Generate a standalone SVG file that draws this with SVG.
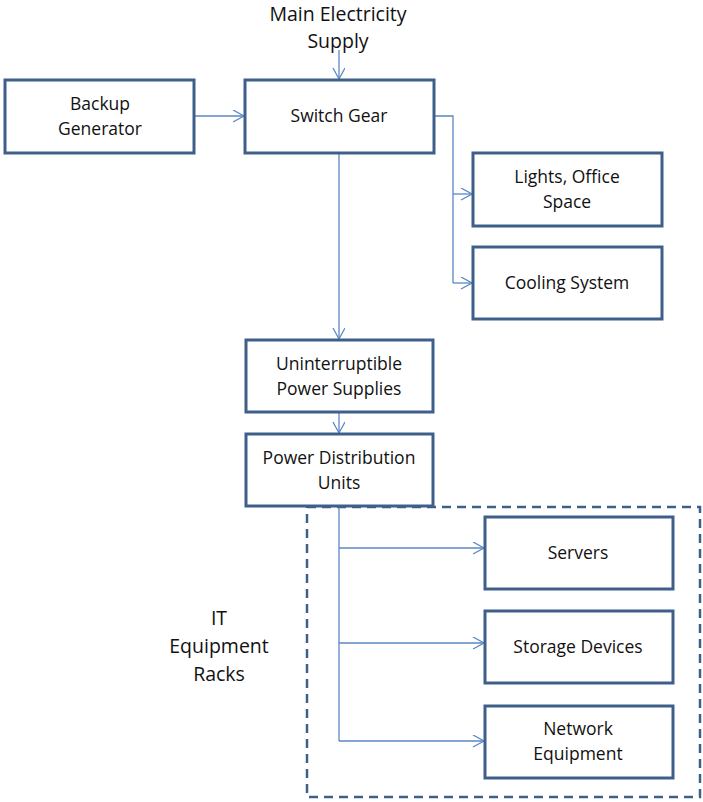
<svg xmlns="http://www.w3.org/2000/svg" width="703" height="802" viewBox="0 0 703 802">
<style>
.box{fill:#fff;stroke:#3E5F8A;stroke-width:3}
.t{font-family:"Open Sans","Liberation Sans",sans-serif;font-size:17.5px;fill:#111;text-anchor:middle}
.tl{font-family:"Open Sans","Liberation Sans",sans-serif;font-size:19.5px;fill:#111;text-anchor:middle}
.c{fill:none;stroke:#5B87C5;stroke-width:1.3;marker-end:url(#a)}
.cn{fill:none;stroke:#5B87C5;stroke-width:1.3}
</style>
<defs>
<marker id="a" markerWidth="14" markerHeight="14" refX="12" refY="6" orient="auto" markerUnits="userSpaceOnUse">
<path d="M1,0 L12,6 L1,12" fill="none" stroke="#5B87C5" stroke-width="1.3"/>
</marker>
</defs>
<rect x="307" y="507" width="393" height="290" fill="none" stroke="#3E5F8A" stroke-width="2.5" stroke-dasharray="9,6"/>
<g id="connectors">
<path class="c" d="M339,50 V79"/>
<path class="c" d="M194,116 H244"/>
<path class="cn" d="M435,116 H453 V283"/>
<path class="c" d="M453,194 H472"/>
<path class="c" d="M453,283 H472"/>
<path class="c" d="M339,153 V339"/>
<path class="c" d="M339,412 V433"/>
<path class="cn" d="M339,506 V741"/>
<path class="c" d="M339,548 H484"/>
<path class="c" d="M339,643 H484"/>
<path class="c" d="M339,741 H484"/>
</g>
<g id="main-supply"><text class="tl" x="338" y="21">Main Electricity</text><text class="tl" x="338" y="48">Supply</text></g>
<g id="backup-generator"><rect class="box" x="5" y="80" width="189" height="73"/><text class="t" x="100" y="110">Backup</text><text class="t" x="100" y="135">Generator</text></g>
<g id="switch-gear"><rect class="box" x="245" y="80" width="189" height="73"/><text class="t" x="339" y="122">Switch Gear</text></g>
<g id="lights"><rect class="box" x="473" y="153" width="189" height="73"/><text class="t" x="567" y="183">Lights, Office</text><text class="t" x="567" y="208">Space</text></g>
<g id="cooling"><rect class="box" x="473" y="247" width="189" height="72"/><text class="t" x="567" y="289">Cooling System</text></g>
<g id="ups"><rect class="box" x="246" y="340" width="187" height="72"/><text class="t" x="339" y="370">Uninterruptible</text><text class="t" x="339" y="395">Power Supplies</text></g>
<g id="pdu"><rect class="box" x="246" y="434" width="187" height="72"/><text class="t" x="339" y="464">Power Distribution</text><text class="t" x="339" y="489">Units</text></g>
<g id="it-racks-label"><text class="tl" x="219" y="625">IT</text><text class="tl" x="219" y="653">Equipment</text><text class="tl" x="219" y="681">Racks</text></g>
<g id="servers"><rect class="box" x="485" y="517" width="188" height="72"/><text class="t" x="578" y="559">Servers</text></g>
<g id="storage"><rect class="box" x="485" y="611" width="188" height="72"/><text class="t" x="578" y="653">Storage Devices</text></g>
<g id="network"><rect class="box" x="485" y="706" width="188" height="72"/><text class="t" x="578" y="735">Network</text><text class="t" x="578" y="760">Equipment</text></g>
</svg>
